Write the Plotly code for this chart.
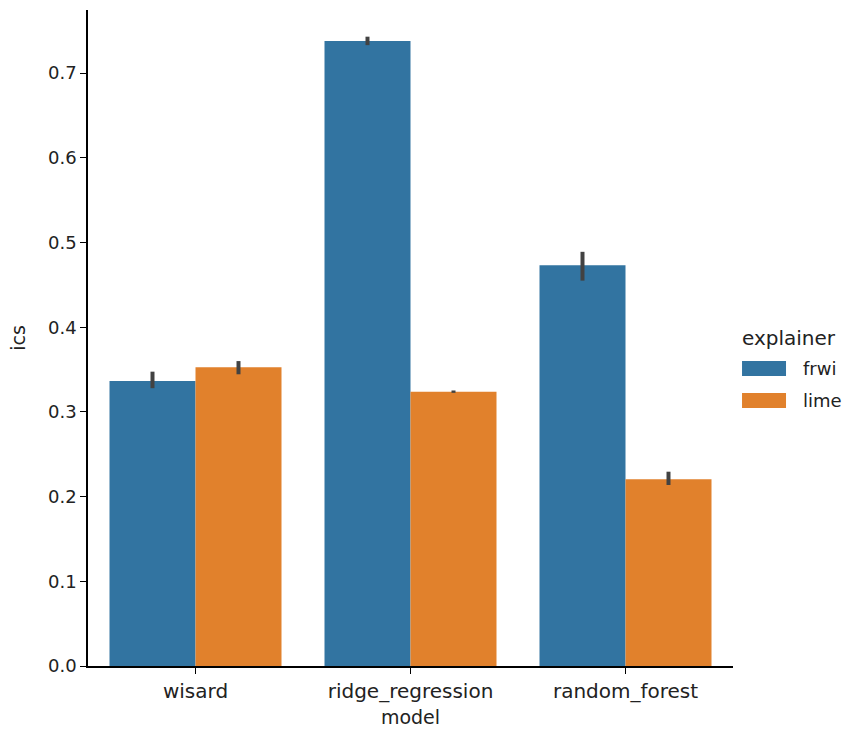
import plotly.graph_objects as go

# Mean ICS per model and explainer, with 95% CI bounds
models = ["wisard", "ridge_regression", "random_forest"]
explainers = ["frwi", "lime"]
frwi_mean = [0.3365, 0.7379, 0.4731]
frwi_lo = [0.3280, 0.7330, 0.4550]
frwi_hi = [0.3475, 0.7430, 0.4890]
lime_mean = [0.3527, 0.3239, 0.2204]
lime_lo = [0.3444, 0.3225, 0.2137]
lime_hi = [0.3600, 0.3253, 0.2294]
y_ticks = [0.0, 0.1, 0.2, 0.3, 0.4, 0.5, 0.6, 0.7]

colors = {"frwi": "#3274a1", "lime": "#e1812c"}
series = {
    "frwi": (frwi_mean, frwi_lo, frwi_hi),
    "lime": (lime_mean, lime_lo, lime_hi),
}

FONT = "DejaVu Sans"
TXT = "#222222"
fig = go.Figure()
for name in explainers:
    mean, lo, hi = series[name]
    fig.add_trace(go.Bar(
        name=name,
        x=models,
        y=mean,
        marker=dict(color=colors[name], line=dict(width=0)),
        error_y=dict(
            type="data",
            symmetric=False,
            array=[h - m for h, m in zip(hi, mean)],
            arrayminus=[m - l for m, l in zip(mean, lo)],
            color="#424242",
            thickness=4,
            width=0,
        ),
        showlegend=False,
    ))

fig.update_layout(
    width=850,
    height=734,
    margin=dict(l=88, r=117, t=10, b=68),
    plot_bgcolor="white",
    paper_bgcolor="white",
    barmode="group",
    bargap=0.2,
    bargroupgap=0,
    font=dict(family=FONT, size=16, color=TXT),
    xaxis=dict(
        title=dict(text="model", font=dict(size=19), standoff=9),
        range=[-0.5, 2.5],
        tickfont=dict(size=20),
        showline=True, linecolor="black", linewidth=1.5,
        ticks="outside", ticklen=6, tickwidth=1.2, tickcolor="black",
        showgrid=False, zeroline=False,
    ),
    yaxis=dict(
        title=dict(text="ics", font=dict(size=19), standoff=17),
        range=[0, 0.7745],
        tickvals=y_ticks,
        tickformat=".1f",
        tickfont=dict(size=18),
        showline=True, linecolor="black", linewidth=1.5,
        ticks="outside", ticklen=6, tickwidth=1.2, tickcolor="black",
        showgrid=False, zeroline=False,
    ),
)

# Legend drawn beside the axes: title, colour patches and labels
fig.add_annotation(
    text="explainer", xref="paper", yref="paper",
    x=1.0110, y=0.500, xanchor="left", yanchor="middle",
    showarrow=False, font=dict(family=FONT, size=20, color=TXT),
)
patch_rows = [0.4535, 0.4047]
for name, yc in zip(explainers, patch_rows):
    fig.add_shape(
        type="rect", xref="paper", yref="paper",
        x0=1.0140, x1=1.0822, y0=yc - 0.0115, y1=yc + 0.0115,
        fillcolor=colors[name], line=dict(width=0),
    )
    fig.add_annotation(
        text=name, xref="paper", yref="paper",
        x=1.105, y=yc, xanchor="left", yanchor="middle",
        showarrow=False, font=dict(family=FONT, size=18, color=TXT),
    )

fig.write_html("out.html")
